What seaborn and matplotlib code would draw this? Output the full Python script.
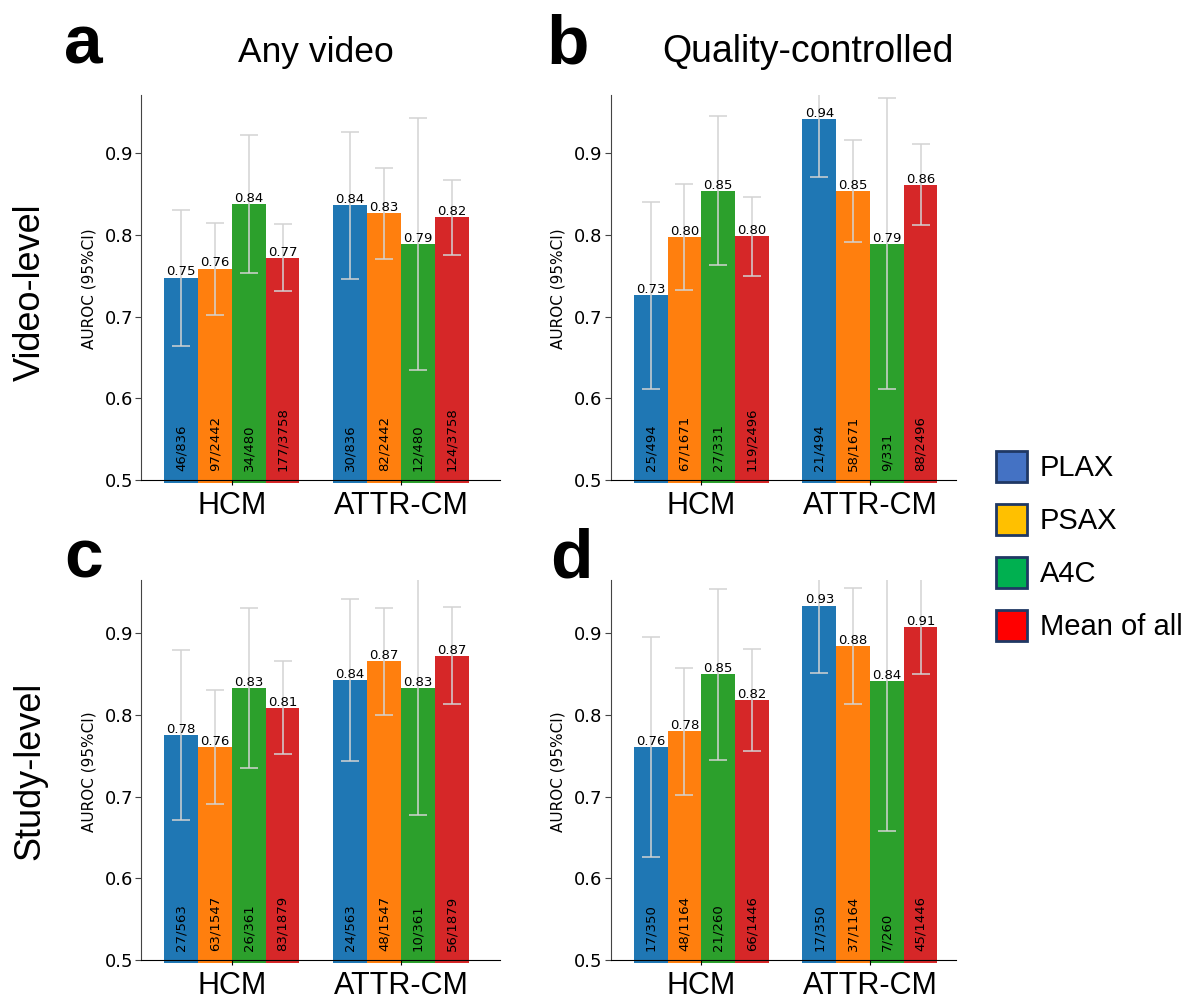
import numpy as np
import pandas as pd
import matplotlib
matplotlib.use("Agg")
import matplotlib.pyplot as plt
from matplotlib.patches import Patch
import seaborn as sns

# categories
diseases = ["HCM", "ATTR-CM"]
views = ["PLAX", "PSAX", "A4C", "Mean of all"]

# AUROC per view (rows) x disease (cols: HCM, ATTR-CM)
auroc_a = [[0.748, 0.837], [0.759, 0.827], [0.838, 0.789], [0.772, 0.822]]
lo_a = [[0.664, 0.746], [0.702, 0.771], [0.753, 0.635], [0.731, 0.776]]
hi_a = [[0.831, 0.926], [0.815, 0.882], [0.923, 0.943], [0.813, 0.867]]
n_a = [["46/836", "30/836"], ["97/2442", "82/2442"], ["34/480", "12/480"], ["177/3758", "124/3758"]]

auroc_b = [[0.726, 0.942], [0.798, 0.854], [0.854, 0.789], [0.799, 0.861]]
lo_b = [[0.611, 0.871], [0.733, 0.791], [0.763, 0.611], [0.750, 0.812]]
hi_b = [[0.841, 0.990], [0.863, 0.916], [0.946, 0.968], [0.847, 0.911]]
n_b = [["25/494", "21/494"], ["67/1671", "58/1671"], ["27/331", "9/331"], ["119/2496", "88/2496"]]

auroc_c = [[0.776, 0.843], [0.761, 0.866], [0.833, 0.833], [0.809, 0.872]]
lo_c = [[0.671, 0.744], [0.691, 0.800], [0.735, 0.677], [0.752, 0.813]]
hi_c = [[0.880, 0.942], [0.831, 0.931], [0.931, 0.980], [0.866, 0.932]]
n_c = [["27/563", "24/563"], ["63/1547", "48/1547"], ["26/361", "10/361"], ["83/1879", "56/1879"]]

auroc_d = [[0.761, 0.934], [0.780, 0.884], [0.850, 0.842], [0.818, 0.908]]
lo_d = [[0.626, 0.852], [0.702, 0.813], [0.745, 0.658], [0.756, 0.850]]
hi_d = [[0.896, 0.990], [0.858, 0.955], [0.954, 0.980], [0.881, 0.968]]
n_d = [["17/350", "17/350"], ["48/1164", "37/1164"], ["21/260", "7/260"], ["66/1446", "45/1446"]]

bar_colors = ["#1f77b4", "#ff7f0e", "#2ca02c", "#d62728"]
legend_colors = ["#4472c4", "#ffc000", "#00b050", "#ff0000"]

ARIAL = "Liberation Sans"
W, H = 1190, 1002


def draw_panel(ax, auroc, lo, hi, counts, ytop, xright):
    rows = []
    for i, v in enumerate(views):
        for j, d in enumerate(diseases):
            rows.append({"view": v, "disease": d, "auroc": auroc[i][j]})
    df = pd.DataFrame(rows)
    sns.barplot(data=df, x="disease", y="auroc", hue="view", order=diseases,
                hue_order=views, palette=bar_colors, saturation=1,
                errorbar=None, legend=False, width=0.8, ax=ax)

    # one container per view; grab them before errorbar adds its own
    bar_conts = list(ax.containers)
    for h, cont in enumerate(bar_conts):
        for bar in cont.patches:
            xc = bar.get_x() + bar.get_width() / 2
            j = int(round(xc))
            val = auroc[h][j]
            ax.errorbar(xc, val, yerr=[[val - lo[h][j]], [hi[h][j] - val]],
                        fmt="none", ecolor="#d3d3d3", elinewidth=1.1,
                        capsize=6.8, capthick=1.1, zorder=3)
            ax.annotate(f"{val:.2f}", (xc, val), xytext=(0, 1.5),
                        textcoords="offset points", ha="center", va="baseline",
                        fontsize=9.5, zorder=4)
            ax.text(xc, 0.511, counts[h][j], rotation=90, ha="center",
                    va="bottom", fontsize=9.5, zorder=4)

    ax.set_ylim(0.4965, ytop)
    ax.set_xlim(-0.537, xright)
    ax.set_yticks([0.5, 0.6, 0.7, 0.8, 0.9])
    ax.set_xlabel("")
    ax.set_ylabel("AUROC (95%CI)", fontsize=11, labelpad=6)
    ax.spines["top"].set_visible(False)
    ax.spines["right"].set_visible(False)
    ax.spines["bottom"].set_position(("data", 0.5))
    ax.spines["left"].set_bounds(0.5, ytop)
    ax.spines["left"].set_color("#444444")
    ax.tick_params(axis="y", labelsize=13, length=4.3, pad=1.5, color="#444444")
    ax.tick_params(axis="x", length=3.6, pad=4)
    for lab in ax.get_xticklabels():
        lab.set_fontfamily(ARIAL)
        lab.set_fontsize(22)


fig = plt.figure(figsize=(W / 100, H / 100), dpi=100)

top_b, top_h = 1 - 482.9 / H, 387.5 / H
bot_b, bot_h = 1 - 962.9 / H, 382.7 / H
left_l, left_w = 141 / W, 359 / W
right_l, right_w = 610.7 / W, 345.3 / W

ax_a = fig.add_axes([left_l, top_b, left_w, top_h])
ax_b = fig.add_axes([right_l, top_b, right_w, top_h])
ax_c = fig.add_axes([left_l, bot_b, left_w, bot_h])
ax_d = fig.add_axes([right_l, bot_b, right_w, bot_h])

draw_panel(ax_a, auroc_a, lo_a, hi_a, n_a, 0.971, 1.586)
draw_panel(ax_b, auroc_b, lo_b, hi_b, n_b, 0.971, 1.51)
draw_panel(ax_c, auroc_c, lo_c, hi_c, n_c, 0.965, 1.586)
draw_panel(ax_d, auroc_d, lo_d, hi_d, n_d, 0.965, 1.51)

# titles, panel letters, row labels
fig.text(316 / W, 1 - 62 / H, "Any video", ha="center", va="baseline",
         fontsize=25.5, family=ARIAL)
fig.text(808 / W, 1 - 62 / H, "Quality-controlled", ha="center", va="baseline",
         fontsize=27, family=ARIAL)
for letter, x, y in [("a", 83, 63), ("b", 568, 63), ("c", 84, 577), ("d", 571, 577)]:
    fig.text(x / W, 1 - y / H, letter, ha="center", va="baseline",
             fontsize=50, fontweight="bold", family=ARIAL)
fig.text(30 / W, 1 - 292 / H, "Video-level", rotation=90, ha="center",
         va="center", fontsize=26, family=ARIAL)
fig.text(30 / W, 1 - 771 / H, "Study-level", rotation=90, ha="center",
         va="center", fontsize=26, family=ARIAL)

handles = [Patch(facecolor=c, edgecolor="#1f3864", linewidth=2) for c in legend_colors]
fig.legend(handles, views, loc="center left", bbox_to_anchor=(996 / W, 1 - 546 / H),
           frameon=False, borderpad=0, borderaxespad=0, handlelength=1.05,
           handleheight=1.25, handletextpad=0.45, labelspacing=0.75,
           prop={"family": ARIAL, "size": 21})

fig.savefig("out.png", dpi=100)
